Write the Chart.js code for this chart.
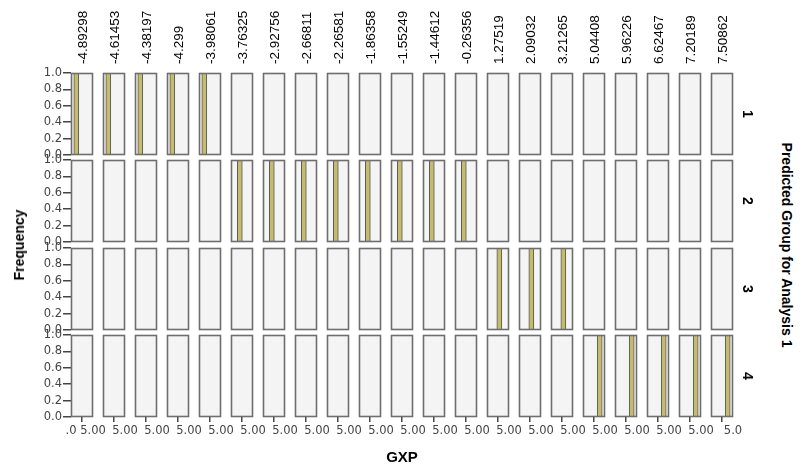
<!DOCTYPE html>
<html>
<head>
<meta charset="utf-8">
<script src="https://cdn.jsdelivr.net/npm/chart.js@4.4.1/dist/chart.umd.min.js"></script>
<style>
  html, body { margin: 0; padding: 0; background: #fff; }
  #wrap { position: relative; width: 802px; height: 466px; overflow: hidden; }
  #wrap canvas { position: absolute; }
  .lbl { position: absolute; white-space: nowrap; color: #000; transform-origin: center center; }
</style>
</head>
<body>
<div id="wrap"></div>
<script>
// Column panels: one per distinct GXP value
const gxpValues = ['-4.89298', '-4.61453', '-4.38197', '-4.299', '-3.98061', '-3.76325', '-2.92756',
  '-2.66811', '-2.26581', '-1.86358', '-1.55249', '-1.44612', '-0.26356', '1.27519', '2.09032',
  '3.21265', '5.04408', '5.96226', '6.62467', '7.20189', '7.50862'];
// Predicted group of each GXP value (row panel) and its count
const predictedGroup = [1, 1, 1, 1, 1, 2, 2, 2, 2, 2, 2, 2, 2, 3, 3, 3, 4, 4, 4, 4, 4];
const frequency = [1, 1, 1, 1, 1, 1, 1, 1, 1, 1, 1, 1, 1, 1, 1, 1, 1, 1, 1, 1, 1];
// Row panels
const groupLabels = ['1', '2', '3', '4'];
// Where the bar sits on each panel's 0–5 inner axis, per predicted group
const barPosition = [1.2, 2.0, 2.8, 3.8];
// Frequency axis ticks
const freqTicks = [0, 0.2, 0.4, 0.6, 0.8, 1.0];
// Inner axis ticks and the tick texts that stay visible along the bottom
const innerTicks = [0, 5];
const bottomFirstLabel = '.0';
const bottomInnerLabel = '5.00';
const bottomLastLabel = '5.0';

// Panel grid
const PANEL_LEFT0 = 71, COL_STEP = 32, PANEL_W = 22;
const ROW_TOP = [73, 160, 248, 335], PANEL_H = 82;
const PAD = 14;
const W = 802, H = 466;

const wrap = document.getElementById('wrap');

const panelFrame = {
  id: 'panelFrame',
  beforeDraw(chart) {
    const { ctx, chartArea: a } = chart;
    ctx.save();
    ctx.fillStyle = '#f4f4f4';
    ctx.fillRect(a.left, a.top, a.width, a.height);
    ctx.restore();
  },
  afterDatasetsDraw(chart) {
    const { ctx, chartArea: a } = chart;
    ctx.save();
    ctx.strokeStyle = '#6e6e6e';
    ctx.lineWidth = 1.6;
    ctx.strokeRect(a.left + 0.5, a.top + 0.5, a.width - 1, a.height - 1);
    ctx.restore();
  }
};

// keep every panel the same size whatever its tick labels need
function noScalePadding(s) {
  s.paddingLeft = 0; s.paddingRight = 0; s.paddingTop = 0; s.paddingBottom = 0;
}

const tickFont = { family: "'DejaVu Sans', sans-serif", size: 11.5 };
const topFont = { family: "'Liberation Sans Narrow', 'Arial Narrow', 'Liberation Sans', sans-serif", size: 13.5 };

for (let r = 0; r < groupLabels.length; r++) {
  for (let c = 0; c < gxpValues.length; c++) {
    const pl = PANEL_LEFT0 + COL_STEP * c;
    const pt = ROW_TOP[r];
    const pr = pl + PANEL_W;
    const pb = pt + PANEL_H;
    const isLeft = c === 0, isTop = r === 0, isBottom = r === groupLabels.length - 1;
    const isLast = c === gxpValues.length - 1;

    const cl = isLeft ? 0 : pl - PAD;
    const ct = isTop ? 0 : pt - PAD;
    const cr = pr + PAD;
    const cb = isBottom ? H : pb + PAD;

    const cv = document.createElement('canvas');
    cv.width = cr - cl; cv.height = cb - ct;
    cv.style.left = cl + 'px'; cv.style.top = ct + 'px';
    cv.style.width = (cr - cl) + 'px'; cv.style.height = (cb - ct) + 'px';
    wrap.appendChild(cv);

    const inRow = predictedGroup[c] === r + 1;
    const data = inRow ? [{ x: barPosition[r], y: frequency[c] }] : [];

    const scales = {
      x: {
        type: 'linear', min: 0, max: 5, offset: false,
        display: isBottom,
        afterBuildTicks(s) { s.ticks = innerTicks.map(v => ({ value: v })); },
        afterFit(s) { if (isBottom) s.height = H - pb; noScalePadding(s); },
        grid: { display: true, drawOnChartArea: false, tickLength: 5, color: '#444', lineWidth: 1.5 },
        border: { display: false },
        ticks: {
          padding: 2, color: '#444', font: tickFont, maxRotation: 0, autoSkip: false,
          callback(v, i) {
            if (i === 0) return isLeft ? bottomFirstLabel : '';
            return isLast ? bottomLastLabel : bottomInnerLabel;
          }
        }
      },
      y: {
        type: 'linear', min: 0, max: 1,
        display: isLeft,
        afterBuildTicks(s) { s.ticks = freqTicks.map(v => ({ value: v })); },
        afterFit(s) { if (isLeft) s.width = pl; noScalePadding(s); },
        grid: { display: true, drawOnChartArea: false, tickLength: 8, color: '#444', lineWidth: 1.5 },
        border: { display: false },
        ticks: {
          autoSkip: false, padding: 1, color: '#444', font: tickFont,
          callback: v => v.toFixed(1)
        }
      }
    };
    if (isTop) {
      scales.xTop = {
        type: 'category', position: 'top', labels: [gxpValues[c]], offset: true,
        afterFit(s) { s.height = pt; noScalePadding(s); },
        grid: { display: false },
        border: { display: false },
        ticks: { minRotation: 90, maxRotation: 90, autoSkip: false, padding: 1, labelOffset: 17, color: '#000', font: topFont }
      };
    }

    new Chart(cv, {
      type: 'bar',
      data: {
        datasets: [{
          data,
          xAxisID: 'x', yAxisID: 'y',
          backgroundColor: '#c4bb72',
          borderColor: '#5c5a48',
          borderWidth: 1,
          borderSkipped: 'bottom',
          barThickness: 5
        }]
      },
      options: {
        responsive: false,
        animation: false,
        events: [],
        devicePixelRatio: 1,
        layout: { padding: { left: isLeft ? 0 : PAD, right: PAD, top: isTop ? 0 : PAD, bottom: isBottom ? 0 : PAD } },
        plugins: { legend: { display: false }, tooltip: { enabled: false }, title: { display: false } },
        scales
      },
      plugins: [panelFrame]
    });
  }
}

function addLabel(text, cx, cy, css, rot) {
  const d = document.createElement('div');
  d.className = 'lbl';
  d.textContent = text;
  Object.assign(d.style, css);
  d.style.left = cx + 'px';
  d.style.top = cy + 'px';
  d.style.transform = 'translate(-50%, -50%)' + (rot ? ' rotate(' + rot + 'deg)' : '');
  wrap.appendChild(d);
}

const titleCss = { fontFamily: "'Liberation Sans', Arial, sans-serif", fontWeight: 'bold' };
addLabel('Frequency', 19, 245, Object.assign({ fontSize: '14px' }, titleCss), -90);
addLabel('GXP', 402, 456, Object.assign({ fontSize: '15px' }, titleCss), 0);
addLabel('Predicted Group for Analysis 1', 787, 245, Object.assign({ fontSize: '14px' }, titleCss), 90);
groupLabels.forEach((g, r) => {
  addLabel(g, 748, ROW_TOP[r] + PANEL_H / 2, Object.assign({ fontSize: '14px' }, titleCss), 90);
});
</script>
</body>
</html>
